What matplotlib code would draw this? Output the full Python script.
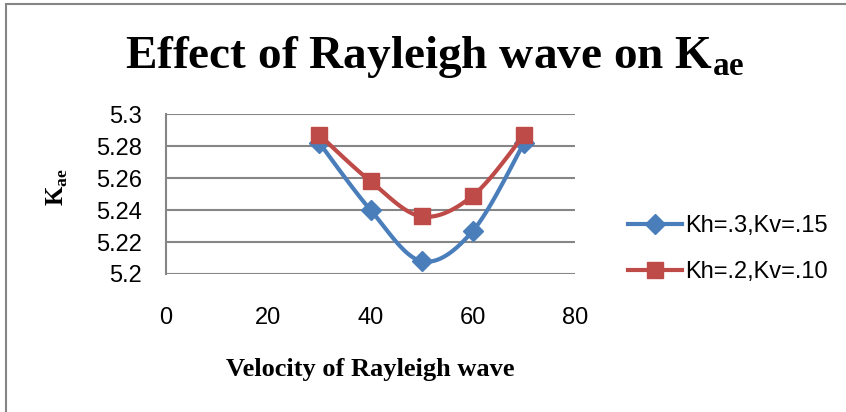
import matplotlib
matplotlib.use("Agg")
import matplotlib.pyplot as plt
import numpy as np

velocity = [30, 40, 50, 60, 70]
kae_a = [5.282, 5.240, 5.208, 5.227, 5.282]
kae_b = [5.287, 5.258, 5.236, 5.249, 5.287]
series_labels = ["Kh=.3,Kv=.15", "Kh=.2,Kv=.10"]
x_ticks = [0, 20, 40, 60, 80]
y_ticks = [5.2, 5.22, 5.24, 5.26, 5.28, 5.3]
y_tick_labels = ["5.2", "5.22", "5.24", "5.26", "5.28", "5.3"]

plt.rcParams["mathtext.fontset"] = "custom"
plt.rcParams["mathtext.bf"] = "Liberation Serif:bold"
plt.rcParams["mathtext.rm"] = "Liberation Serif"


def smooth(x, y, n=30):
    # Catmull-Rom style smoothing, like Excel's "smoothed line"
    x = np.asarray(x, float)
    y = np.asarray(y, float)
    px = np.concatenate([[x[0]], x, [x[-1]]])
    py = np.concatenate([[y[0]], y, [y[-1]]])
    xs, ys = [], []
    t = np.linspace(0, 1, n)
    for i in range(1, len(px) - 2):
        p0, p1, p2, p3 = (np.array([px[j], py[j]]) for j in (i - 1, i, i + 1, i + 2))
        c1 = p1 + (p2 - p0) / 6
        c2 = p2 - (p3 - p1) / 6
        b = ((1 - t) ** 3)[:, None] * p1 + (3 * (1 - t) ** 2 * t)[:, None] * c1 \
            + (3 * (1 - t) * t ** 2)[:, None] * c2 + (t ** 3)[:, None] * p2
        xs.extend(b[:, 0])
        ys.extend(b[:, 1])
    return xs, ys


fig = plt.figure(figsize=(8.46, 4.12), dpi=100)
ax = fig.add_axes([0.196, 0.335, 0.484, 0.388])

blue = "#4a7ebb"
red = "#be4b48"

sx, sy = smooth(velocity, kae_a)
ax.plot(sx, sy, color=blue, lw=3, solid_capstyle="round", zorder=3)
ax.plot(velocity, kae_a, ls="none", marker="D", ms=10, color=blue, zorder=4)
sx, sy = smooth(velocity, kae_b)
ax.plot(sx, sy, color=red, lw=3, solid_capstyle="round", zorder=5)
ax.plot(velocity, kae_b, ls="none", marker="s", ms=11.5, color=red, zorder=6)

ax.set_xlim(0, 80)
ax.set_ylim(5.2, 5.3)
ax.set_xticks(x_ticks)
ax.set_yticks(y_ticks)
ax.set_yticklabels(y_tick_labels)
ax.grid(axis="y", color="#868686", lw=1.5)
ax.set_axisbelow(True)
for s in ["top", "right", "bottom"]:
    ax.spines[s].set_visible(False)
ax.spines["left"].set_color("#868686")
ax.spines["left"].set_linewidth(1.5)
ax.tick_params(length=0, labelsize=17)
ax.tick_params(axis="x", pad=24)
ax.tick_params(axis="y", pad=17)
for lab in ax.get_xticklabels() + ax.get_yticklabels():
    lab.set_fontfamily("Liberation Sans")

fig.text(0.514, 0.862, r"Effect of Rayleigh wave on K$_{\mathbf{ae}}$", ha="center",
         va="center", fontsize=34, fontweight="bold", family="Liberation Serif")
fig.text(0.438, 0.102, "Velocity of Rayleigh wave", ha="center", va="center",
         fontsize=19, fontweight="bold", family="Liberation Serif")
fig.text(0.068, 0.545, r"K$_{\mathbf{ae}}$", ha="center", va="center", rotation=90,
         fontsize=18, fontweight="bold", family="Liberation Serif")

handles = [
    plt.Line2D([], [], color=blue, lw=3, marker="D", ms=10),
    plt.Line2D([], [], color=red, lw=3, marker="s", ms=11.5),
]
fig.legend(handles, series_labels, loc="center left", bbox_to_anchor=(0.742, 0.395),
           frameon=False, prop={"family": "Liberation Sans", "size": 17},
           handlelength=2.3, handletextpad=0.15, labelspacing=1.0,
           borderpad=0, borderaxespad=0)

border = plt.Rectangle((0.007, -0.1), 1.2, 1.09, transform=fig.transFigure,
                       fill=False, ec="#868686", lw=1.5)
fig.patches.append(border)

fig.savefig("out.png", dpi=100)
